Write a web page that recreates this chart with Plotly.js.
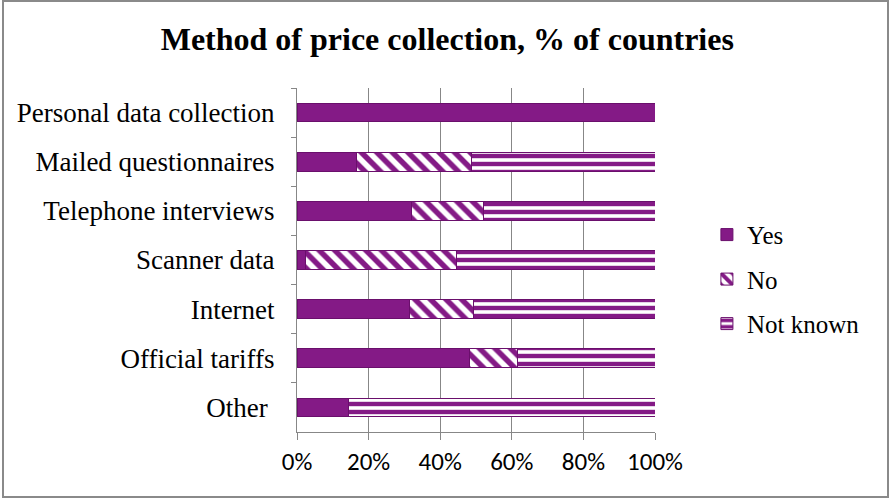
<!DOCTYPE html>
<html>
<head>
<meta charset="utf-8">
<script src="https://cdn.plot.ly/plotly-3.0.1.min.js"></script>
<style>
  html, body { margin: 0; padding: 0; background: #fff; }
  #wrap { position: relative; width: 891px; height: 499px; }
  #chart { width: 891px; height: 499px; }
  #frame { position: absolute; left: 2px; top: 0px; width: 887px; height: 498px;
           box-sizing: border-box; border: 2px solid #8a8a8a; pointer-events: none; }
</style>
</head>
<body>
<div id="wrap"><div id="chart"></div><div id="frame"></div></div>
<script>
const categories = ['Personal data collection', 'Mailed questionnaires', 'Telephone interviews',
                    'Scanner data', 'Internet', 'Official tariffs', 'Other '];
const yesValues = [100, 16.7, 32.1, 2.5, 31.5, 48.2, 14.4];
const noValues = [0, 32.0, 20.1, 42.0, 17.7, 13.5, 0];
const notKnownValues = [0, 51.3, 47.8, 55.5, 50.8, 38.3, 85.6];
const xTickValues = [0, 20, 40, 60, 80, 100];
const xTickLabels = ['0%', '20%', '40%', '60%', '80%', '100%'];

const purple = '#841a86';
const edge = '#6a0f6c';

const traces = [
  { name: 'Yes', legendgroup: 'a', type: 'bar', orientation: 'h', y: categories, x: yesValues,
    marker: { color: purple, line: { color: edge, width: 1 } } },
  { name: 'No', legendgroup: 'b', type: 'bar', orientation: 'h', y: categories, x: noValues,
    marker: { color: '#ffffff', line: { color: edge, width: 1 },
              pattern: { shape: '\\', fgcolor: purple, bgcolor: '#ffffff', fgopacity: 1, size: 11, solidity: 0.5, fillmode: 'replace' } } },
  { name: 'Not known', legendgroup: 'c', type: 'bar', orientation: 'h', y: categories, x: notKnownValues,
    marker: { color: '#ffffff', line: { color: edge, width: 1 },
              pattern: { shape: '-', fgcolor: purple, bgcolor: '#ffffff', fgopacity: 1, size: 8, solidity: 0.55, fillmode: 'replace' } } }
];

const layout = {
  width: 891, height: 499,
  margin: { l: 297, r: 236, t: 88, b: 67 },
  paper_bgcolor: '#ffffff', plot_bgcolor: '#ffffff',
  barmode: 'stack', bargap: 0.62,
  showlegend: true,
  title: { text: '<b>Method of price collection, % of countries</b>',
           font: { family: 'Liberation Serif, Times New Roman, serif', size: 32, color: '#000' },
           xref: 'container', x: 0.502, yref: 'container', y: 0.922, yanchor: 'middle' },
  xaxis: { range: [0, 100], tickvals: xTickValues, ticktext: xTickLabels,
           showgrid: true, gridcolor: '#878787', gridwidth: 1, zeroline: false,
           showline: true, linecolor: '#878787', linewidth: 1,
           ticks: 'outside', ticklen: 7, tickcolor: '#878787',
           tickfont: { family: 'Carlito, Calibri, Lato, sans-serif', size: 25, color: '#000' },
           fixedrange: true },
  yaxis: { autorange: 'reversed', type: 'category',
           showgrid: false, zeroline: false,
           showline: true, linecolor: '#878787', linewidth: 1,
           ticks: 'outside', ticklen: 5, tickcolor: '#878787', tickson: 'boundaries',
           ticklabelstandoff: 16,
           tickfont: { family: 'Liberation Serif, Times New Roman, serif', size: 27, color: '#000' },
           fixedrange: true },
  legend: { x: 1.145, xanchor: 'left', y: 0.64, yanchor: 'top',
            traceorder: 'grouped', tracegroupgap: 9,
            font: { family: 'Liberation Serif, Times New Roman, serif', size: 25, color: '#000' },
            bgcolor: 'rgba(0,0,0,0)' }
};

Plotly.newPlot('chart', traces, layout, { displayModeBar: false, staticPlot: true });
</script>
</body>
</html>
